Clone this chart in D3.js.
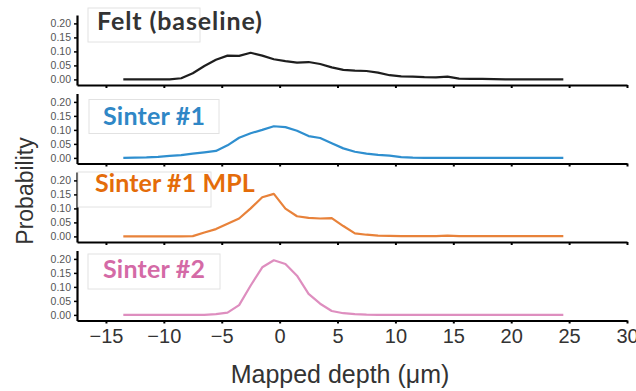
<!DOCTYPE html>
<html><head><meta charset="utf-8">
<script src="https://cdn.jsdelivr.net/npm/d3@7"></script>
<style>body{margin:0;background:#fff}svg{display:block}</style>
</head><body><svg id="c" width="636" height="391"></svg>
<script>
const depth = d3.range(-13.5, 25, 1);
const felt = [0,0,0,0,0,0.004,0.022,0.048,0.07,0.085,0.084,0.095,0.085,0.072,0.065,0.06,0.062,0.055,0.043,0.034,0.031,0.03,0.024,0.015,0.011,0.01,0.008,0.007,0.01,0.003,0.002,0.002,0.001,0,0,0,0,0,0];
const sinter1 = [0,0.001,0.002,0.004,0.007,0.01,0.015,0.02,0.025,0.045,0.072,0.088,0.1,0.113,0.11,0.097,0.078,0.071,0.052,0.034,0.022,0.015,0.011,0.008,0.003,0.001,0,0,0,0,0,0,0,0,0,0,0,0,0];
const sinter1mpl = [0,0,0,0,0,0,0.001,0.014,0.026,0.045,0.064,0.1,0.14,0.152,0.099,0.072,0.066,0.064,0.065,0.037,0.011,0.006,0.003,0.002,0.001,0.001,0.001,0.001,0.003,0.001,0.001,0.001,0.001,0.001,0.001,0.001,0.001,0.001,0.001];
const sinter2 = [0,0,0,0,0,0,0,0,0.003,0.008,0.035,0.105,0.17,0.195,0.182,0.14,0.075,0.04,0.014,0.006,0.003,0.001,0,0,0,0,0,0,0,0,0,0,0,0,0,0,0,0,0];
const seriesNames = ["Felt (baseline)", "Sinter #1", "Sinter #1 MPL", "Sinter #2"];
const seriesValues = [felt, sinter1, sinter1mpl, sinter2];
const xTicks = [-15,-10,-5,0,5,10,15,20,25,30];
const yTicks = [0,0.05,0.10,0.15,0.20];

const lineColors = ["#1e1e1e","#2f8fcf","#e8823a","#de8ebf"];
const textColors = ["#333333","#2f87c6","#e46c0a","#d46aa6"];
// box: [x, top offset from baseline, w, h]; text: [x, baseline offset, letter-spacing]
const boxes = [[88,-77,112,34],[89,-64,130,34],[78,-70,133,35],[88,-66.5,132,35]];
const texts = [[97,-55,0.9],[103,-38.7,0.2],[95,-49.7,0.1],[103,-42.8,0.2]];

const svg = d3.select("#c");
const x = d3.scaleLinear().domain([-17.5, 30]).range([77, 627]);
const base0 = 85, step = 78.5;

seriesValues.forEach((vals, i) => {
  const b = base0 + i*step;
  const y = d3.scaleLinear().domain([-0.02, 0.23]).range([b, b-70]);
  const g = svg.append("g");
  g.append("path")
    .datum(depth.map((d, j) => [d, vals[j]]))
    .attr("fill","none").attr("stroke", lineColors[i]).attr("stroke-width", 2.2)
    .attr("stroke-linejoin","round")
    .attr("d", d3.line().x(d => x(d[0])).y(d => y(d[1])));
  const xa = g.append("g").attr("transform", `translate(0,${b})`)
    .call(d3.axisBottom(x).tickValues(xTicks).tickSize(3).tickSizeOuter(0)
      .tickFormat(i === 3 ? (d => d < 0 ? "\u2212" + Math.abs(d) : d) : () => ""));
  xa.select(".domain").attr("stroke","#000").attr("stroke-width",2.2);
  xa.selectAll(".tick line").attr("stroke","#000").attr("stroke-width",2);
  xa.selectAll(".tick text").attr("font-family","Liberation Sans, Arial, sans-serif")
    .attr("font-size", 20).attr("fill","#333").attr("dy", "0.82em");
  const ya = g.append("g").attr("transform", `translate(77,0)`)
    .call(d3.axisLeft(y).tickValues(yTicks).tickSize(3).tickSizeOuter(0).tickFormat(d3.format(".2f")));
  ya.select(".domain").attr("stroke","#000").attr("stroke-width",2.2);
  ya.selectAll(".tick line").attr("stroke","#000").attr("stroke-width",1.5);
  ya.selectAll(".tick text").attr("font-family","Liberation Sans, Arial, sans-serif")
    .attr("font-size", 10.5).attr("fill","#555").attr("x", -6);
  const bx = boxes[i];
  g.append("rect").attr("x", bx[0]).attr("y", b + bx[1]).attr("width", bx[2]).attr("height", bx[3])
    .attr("fill","#fff").attr("stroke","#e2e2e2").attr("stroke-width",1);
  g.append("text").attr("x", texts[i][0]).attr("y", b + texts[i][1])
    .attr("font-family","Lato, sans-serif").attr("font-weight","bold").attr("font-size", 25)
    .attr("letter-spacing", texts[i][2])
    .attr("fill", textColors[i]).text(seriesNames[i]);
});

svg.append("text").attr("x", 340).attr("y", 383).attr("text-anchor","middle")
  .attr("font-family","Liberation Sans, Arial, sans-serif").attr("font-size", 25).attr("fill","#333")
  .text("Mapped depth (\u03bcm)");
svg.append("text").attr("transform","translate(33,191) rotate(-90)").attr("text-anchor","middle")
  .attr("font-family","Liberation Sans, Arial, sans-serif").attr("font-size", 23).attr("fill","#333")
  .text("Probability");
</script></body></html>
